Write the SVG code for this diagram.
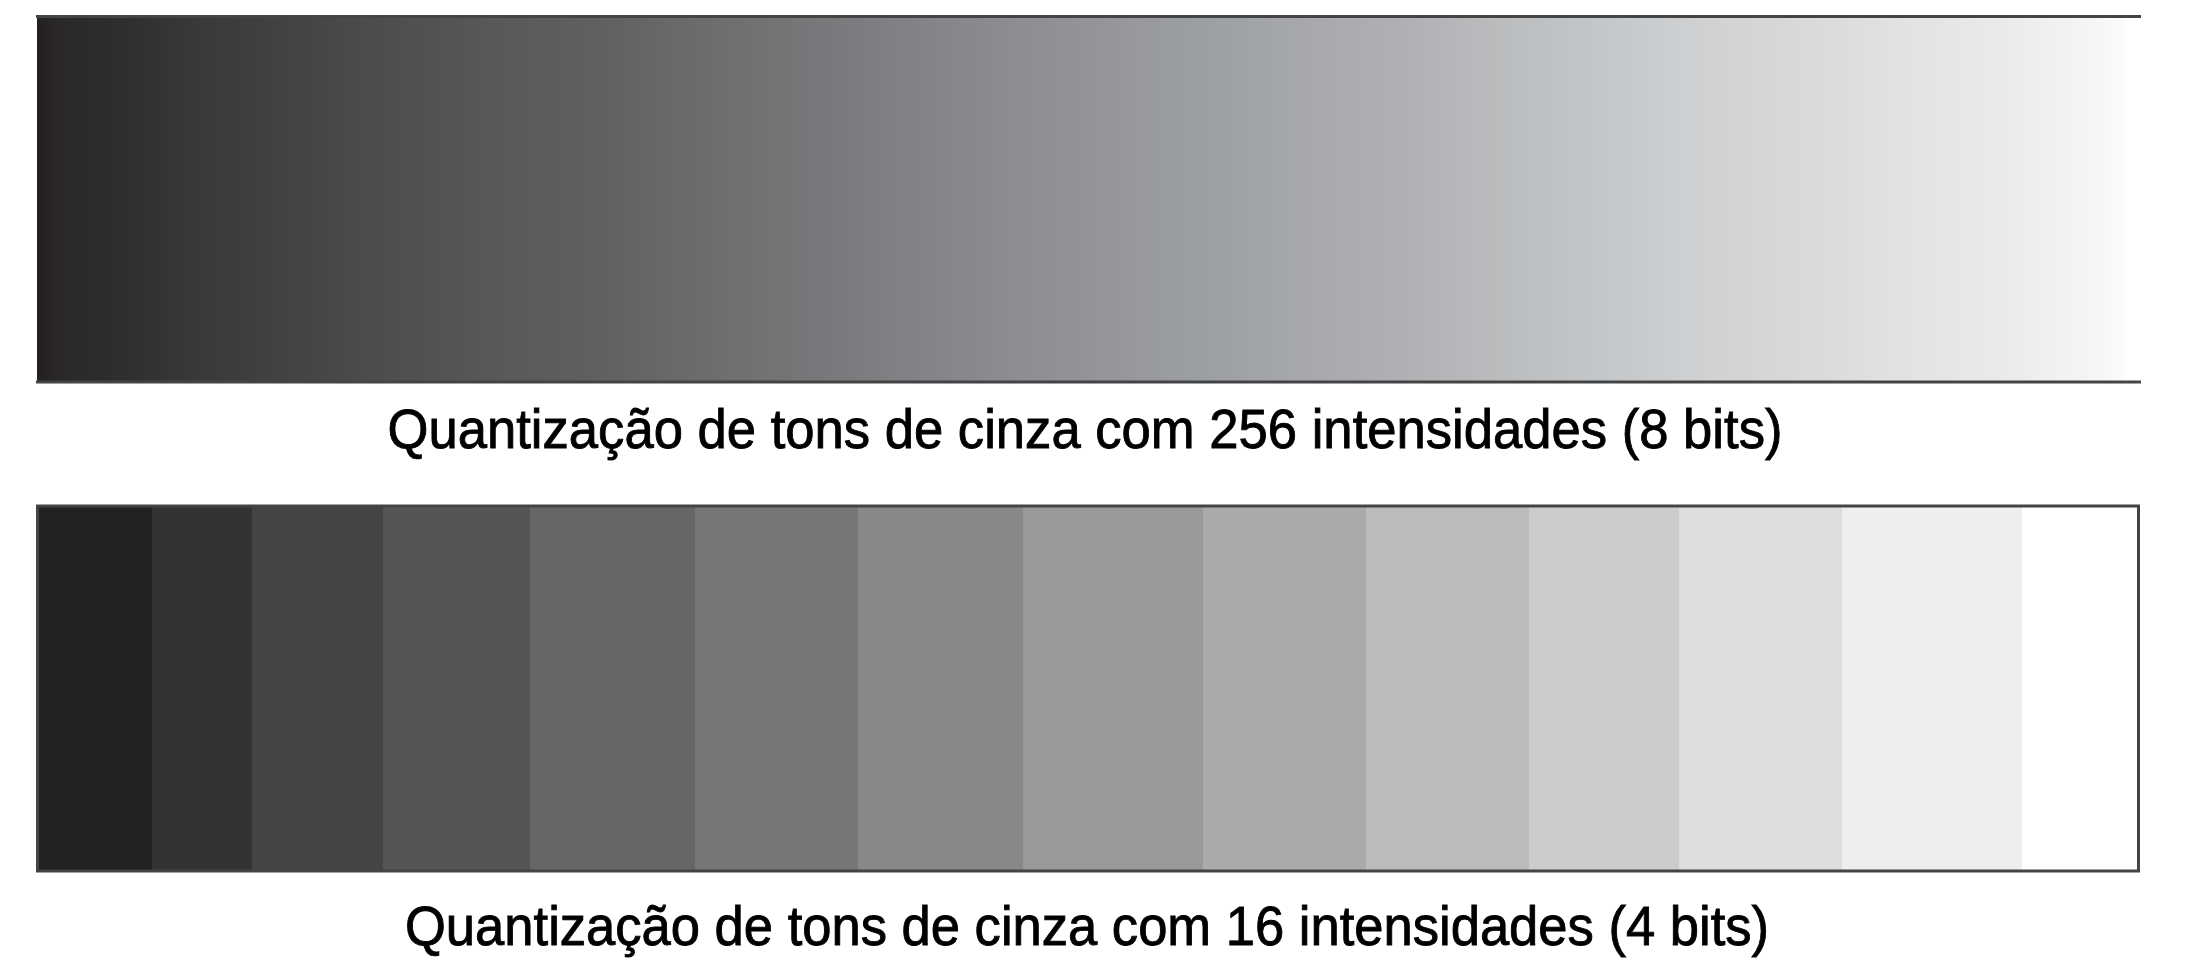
<svg xmlns="http://www.w3.org/2000/svg" width="2188" height="976" viewBox="0 0 2188 976">
<style>
.cap{font-family:"Liberation Sans",Arial,sans-serif;font-size:56px;fill:#000;stroke:#000;stroke-width:0.9;text-anchor:middle}
.ln{stroke:#444;stroke-width:3;fill:none}
</style>
<defs>
<linearGradient id="g256" gradientUnits="userSpaceOnUse" x1="37" y1="0" x2="2125" y2="0">
<stop offset="0" stop-color="#231f20"/>
<stop offset="0.011" stop-color="#2b2829"/>
<stop offset="0.030" stop-color="#2c2c2c"/>
<stop offset="0.054" stop-color="#333233"/>
<stop offset="0.078" stop-color="#39393a"/>
<stop offset="0.126" stop-color="#444446"/>
<stop offset="0.174" stop-color="#4f4f50"/>
<stop offset="0.222" stop-color="#59595c"/>
<stop offset="0.270" stop-color="#5f6062"/>
<stop offset="0.318" stop-color="#6b6c6e"/>
<stop offset="0.366" stop-color="#757678"/>
<stop offset="0.413" stop-color="#808184"/>
<stop offset="0.461" stop-color="#8b8c8f"/>
<stop offset="0.509" stop-color="#949598"/>
<stop offset="0.557" stop-color="#9c9fa2"/>
<stop offset="0.605" stop-color="#a6a8ab"/>
<stop offset="0.653" stop-color="#afb0b3"/>
<stop offset="0.701" stop-color="#babcbe"/>
<stop offset="0.749" stop-color="#c4c7c9"/>
<stop offset="0.797" stop-color="#cfd1d3"/>
<stop offset="0.845" stop-color="#d8d9db"/>
<stop offset="0.892" stop-color="#e1e2e4"/>
<stop offset="0.940" stop-color="#e9eaeb"/>
<stop offset="0.988" stop-color="#f6f6f6"/>
<stop offset="1" stop-color="#fcfcfc"/>
</linearGradient>
</defs>
<rect width="2188" height="976" fill="#fff"/>
<g id="bar256">
<rect x="37" y="17" width="2088" height="364" fill="url(#g256)"/>
<line class="ln" x1="36" y1="16.5" x2="2141" y2="16.5"/>
<line class="ln" x1="36" y1="382" x2="2141" y2="382"/>
</g>
<g id="bar16">
<rect x="37" y="506" width="115" height="365" fill="#222"/>
<rect x="152" y="506" width="100" height="365" fill="#333"/>
<rect x="252" y="506" width="131" height="365" fill="#444"/>
<rect x="383" y="506" width="147" height="365" fill="#555"/>
<rect x="530" y="506" width="165" height="365" fill="#666"/>
<rect x="695" y="506" width="163" height="365" fill="#777"/>
<rect x="858" y="506" width="165" height="365" fill="#888"/>
<rect x="1023" y="506" width="180" height="365" fill="#999"/>
<rect x="1203" y="506" width="163" height="365" fill="#aaa"/>
<rect x="1366" y="506" width="163" height="365" fill="#bbb"/>
<rect x="1529" y="506" width="150" height="365" fill="#ccc"/>
<rect x="1679" y="506" width="163" height="365" fill="#ddd"/>
<rect x="1842" y="506" width="180" height="365" fill="#eee"/>
<rect x="2022" y="506" width="116" height="365" fill="#fff"/>
<rect class="ln" x="37.5" y="506" width="2101" height="365"/>
</g>
<g id="captions">
<text class="cap" x="1085" y="448" textLength="1395" lengthAdjust="spacingAndGlyphs">Quantização de tons de cinza com 256 intensidades (8 bits)</text>
<text class="cap" x="1087" y="945" textLength="1364" lengthAdjust="spacingAndGlyphs">Quantização de tons de cinza com 16 intensidades (4 bits)</text>
</g>
</svg>
